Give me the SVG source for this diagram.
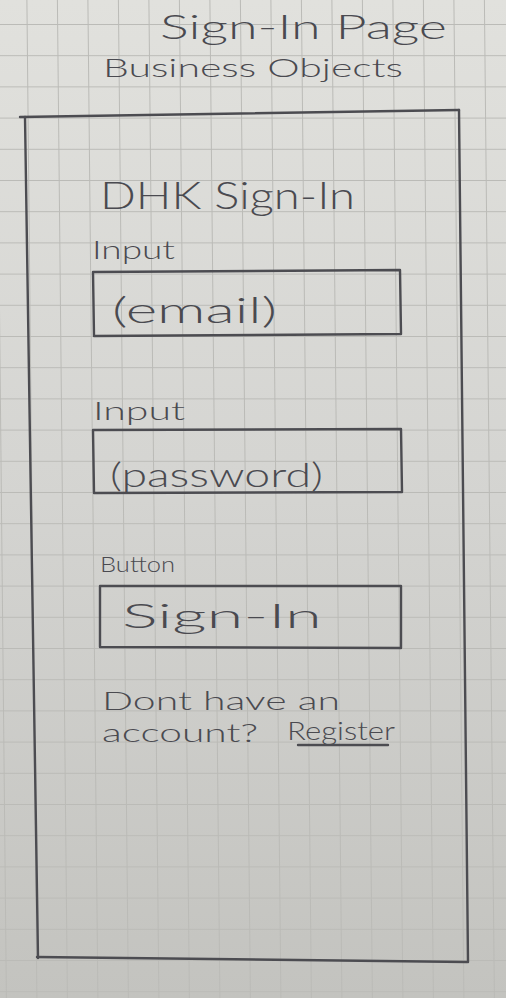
<svg xmlns="http://www.w3.org/2000/svg" width="506" height="998" viewBox="0 0 506 998">
  <defs>
    <linearGradient id="paper" x1="0" y1="0" x2="0" y2="1">
      <stop offset="0" stop-color="#e1e1dd"/>
      <stop offset="0.5" stop-color="#d4d4d1"/>
      <stop offset="1" stop-color="#c3c3bf"/>
    </linearGradient>
    <pattern id="gridH" x="0" y="24" width="506" height="31.2" patternUnits="userSpaceOnUse">
      <line x1="0" y1="0.5" x2="506" y2="0.5" stroke="#bbbbb7" stroke-width="1"/>
    </pattern>
  </defs>
  <style>
    .pencil { fill: none; stroke: #4c4c51; stroke-width: 2.4; stroke-linecap: round; stroke-linejoin: round; }
    .hand { font-family: "Lato", "Open Sans", "Liberation Sans", sans-serif; font-weight: 300; fill: #4a4a50; }
    .grid { stroke: #bbbbb7; stroke-width: 1; }
  </style>

  <!-- graph paper -->
  <rect x="0" y="0" width="506" height="998" fill="url(#paper)"/>
  <rect x="0" y="0" width="506" height="998" fill="url(#gridH)"/>
  <g id="grid-columns" class="grid">
    <line x1="-3.6" y1="0" x2="6.4" y2="998"/>
    <line x1="26.9" y1="0" x2="36.9" y2="998"/>
    <line x1="57.4" y1="0" x2="67.4" y2="998"/>
    <line x1="87.9" y1="0" x2="97.9" y2="998"/>
    <line x1="118.4" y1="0" x2="128.4" y2="998"/>
    <line x1="148.9" y1="0" x2="158.9" y2="998"/>
    <line x1="179.4" y1="0" x2="189.4" y2="998"/>
    <line x1="209.9" y1="0" x2="219.9" y2="998"/>
    <line x1="240.4" y1="0" x2="250.4" y2="998"/>
    <line x1="270.9" y1="0" x2="280.9" y2="998"/>
    <line x1="301.4" y1="0" x2="311.4" y2="998"/>
    <line x1="331.9" y1="0" x2="341.9" y2="998"/>
    <line x1="362.4" y1="0" x2="372.4" y2="998"/>
    <line x1="392.9" y1="0" x2="402.9" y2="998"/>
    <line x1="423.4" y1="0" x2="433.4" y2="998"/>
    <line x1="453.9" y1="0" x2="463.9" y2="998"/>
    <line x1="484.4" y1="0" x2="494.4" y2="998"/>
  </g>

  <!-- page heading -->
  <g id="page-title">
    <text class="hand" x="160" y="39" font-size="34" textLength="287" lengthAdjust="spacingAndGlyphs">Sign-In Page</text>
    <text class="hand" x="103" y="77" font-size="25" textLength="300" lengthAdjust="spacingAndGlyphs">Business Objects</text>
  </g>

  <!-- phone screen frame -->
  <g id="screen-frame">
    <path class="pencil" d="M20,117 L459,110"/>
    <path class="pencil" d="M25,117 L38,958"/>
    <path class="pencil" d="M37,957 L467,962"/>
    <path class="pencil" d="M459,110 L468,962"/>
  </g>

  <g id="screen-heading">
    <text class="hand" x="100" y="209" font-size="38" textLength="255" lengthAdjust="spacingAndGlyphs">DHK Sign-In</text>
  </g>

  <g id="email-input">
    <text class="hand" x="92" y="259" font-size="26" textLength="83" lengthAdjust="spacingAndGlyphs">Input</text>
    <path class="pencil" d="M93,272 L400,270 L401,334 L94,336 Z"/>
    <text class="hand" x="112" y="323" font-size="36" textLength="165" lengthAdjust="spacingAndGlyphs">(email)</text>
  </g>

  <g id="password-input">
    <text class="hand" x="93" y="420" font-size="26" textLength="92" lengthAdjust="spacingAndGlyphs">Input</text>
    <path class="pencil" d="M93,430 L401,429 L402,492 L94,493 Z"/>
    <text class="hand" x="110" y="487" font-size="34" textLength="213" lengthAdjust="spacingAndGlyphs">(password)</text>
  </g>

  <g id="sign-in-button">
    <text class="hand" x="100" y="572" font-size="21" textLength="75" lengthAdjust="spacingAndGlyphs">Button</text>
    <path class="pencil" d="M100,586 L401,586 L401,648 L100,647 Z"/>
    <text class="hand" x="122" y="628" font-size="34" textLength="200" lengthAdjust="spacingAndGlyphs">Sign-In</text>
  </g>

  <g id="register-prompt">
    <text class="hand" x="102" y="710" font-size="26" textLength="238" lengthAdjust="spacingAndGlyphs">Dont have an</text>
    <text class="hand" x="102" y="742" font-size="26" textLength="156" lengthAdjust="spacingAndGlyphs">account?</text>
    <text class="hand" x="287" y="740" font-size="26" textLength="108" lengthAdjust="spacingAndGlyphs">Register</text>
    <path class="pencil" d="M298,745 L388,745" stroke-width="2.2"/>
  </g>
</svg>
